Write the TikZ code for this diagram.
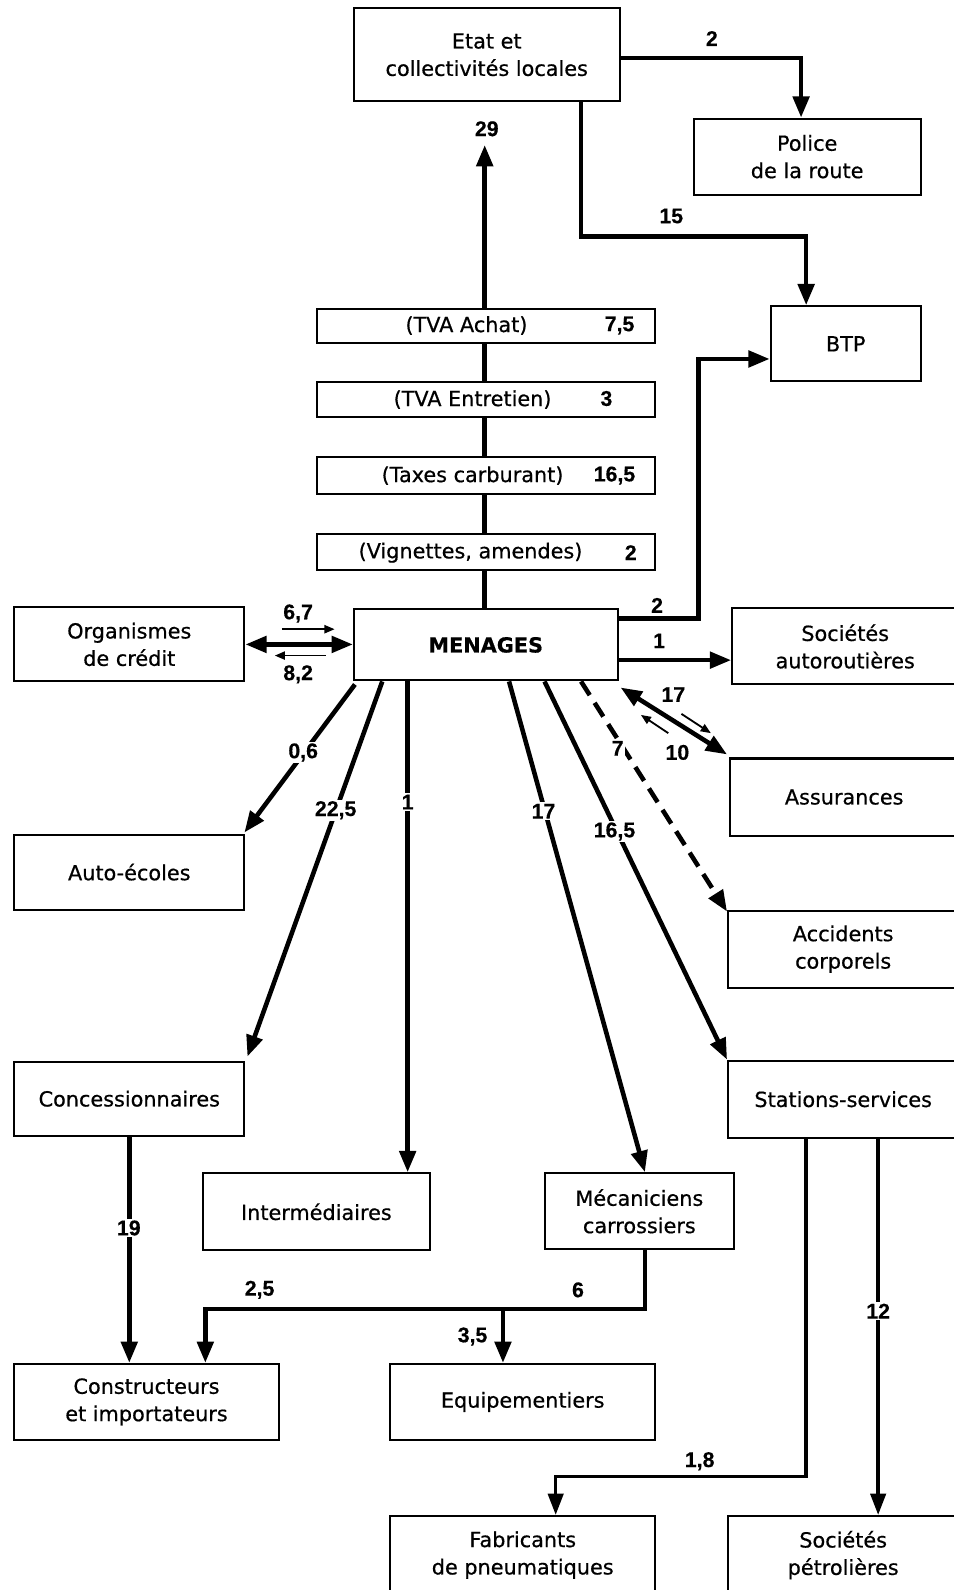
\documentclass[tikz,border=0pt]{standalone}
\usepackage{fontspec}
\setmainfont{DejaVu Sans}[FakeBold=0.6]
\newfontfamily\numfont{Liberation Sans}[FakeBold=0.4]
\usetikzlibrary{arrows.meta}
\begin{document}
\begin{tikzpicture}[x=1pt,y=-1pt,
 box/.style={draw, line width=2pt, fill=white, inner sep=0pt, align=center, font=\fontsize{20.5}{27}\selectfont},
 flow/.style={line width=4.5pt, -{Triangle[length=21pt,width=16pt]}},
 flowthin/.style={line width=3.5pt, -{Triangle[length=21pt,width=15pt]}},
 flowboth/.style={line width=4.5pt, {Triangle[length=21pt,width=16pt]}-{Triangle[length=21pt,width=16pt]}},
 flowdash/.style={line width=4.5pt, dash pattern=on 16pt off 9pt, -{Triangle[length=21pt,width=16pt]}},
 small/.style={line width=1.8pt, -{Triangle[length=10pt,width=8pt]}},
 lab/.style={font=\numfont\bfseries\fontsize{21}{24}\selectfont, inner sep=1.5pt},
 onl/.style={lab, fill=white},
 txt/.style={font=\fontsize{20.5}{27}\selectfont, inner sep=0pt}
]
\fill[white] (0,0) rectangle (940,1568);
\useasboundingbox (0,0) rectangle (940,1568);

% main boxes
\node[box, minimum width=262pt, minimum height=92pt] (etat) at (480,54) {Etat et\\collectivités locales};
\node[box, minimum width=224pt, minimum height=75pt] (police) at (796,154.5) {Police\\de la route};
\node[box, minimum width=148pt, minimum height=74pt] (btp) at (834,339) {BTP};
\node[box, minimum width=260pt, minimum height=70pt, font=\fontsize{20.5}{27}\selectfont\bfseries] (men) at (479,636) {MENAGES};
\node[box, minimum width=227pt, minimum height=73pt] (org) at (127.5,635.5) {Organismes\\de crédit};
\node[box, minimum width=223pt, minimum height=75pt] (autor) at (833.5,637.5) {Sociétés\\autoroutières};
\node[box, minimum width=225pt, minimum height=76pt] (assur) at (832.5,786) {Assurances};
\node[box, minimum width=227pt, minimum height=76pt] (accid) at (831.5,936) {Accidents\\corporels};
\node[box, minimum width=227pt, minimum height=76pt] (stat) at (831.5,1084) {Stations-services};
\node[box, minimum width=227pt, minimum height=74pt] (auto) at (127.5,860) {Auto-écoles};
\node[box, minimum width=227pt, minimum height=73pt] (conc) at (127.5,1083.5) {Concessionnaires};
\node[box, minimum width=224pt, minimum height=76pt] (inter) at (312,1195) {Intermédiaires};
\node[box, minimum width=187pt, minimum height=75pt] (meca) at (630.5,1194.5) {Mécaniciens\\carrossiers};
\node[box, minimum width=261pt, minimum height=75pt] (cons) at (144.5,1382.5) {Constructeurs\\et importateurs};
\node[box, minimum width=261pt, minimum height=75pt] (equip) at (515.5,1382.5) {Equipementiers};
\node[box, minimum width=261pt, minimum height=77pt] (fab) at (515.5,1533.5) {Fabricants\\de pneumatiques};
\node[box, minimum width=227pt, minimum height=77pt] (petro) at (831.5,1533.5) {Sociétés\\pétrolières};

% tax column
\coordinate (t29) at (478,143);
\draw[flow] (men.north -| t29) -- (t29);
\node[box, minimum width=333pt, minimum height=33pt] (tva1) at (479.5,321.5) {};
\node[box, minimum width=333pt, minimum height=34pt] (tva2) at (479.5,394) {};
\node[box, minimum width=333pt, minimum height=36pt] (tax3) at (479.5,469) {};
\node[box, minimum width=333pt, minimum height=35pt] (vign) at (479.5,544.5) {};
\node[txt] (t1) at (460,321) {(TVA Achat)};
\node[lab] (n1) at (611,321) {7,5};
\node[txt] (t2) at (466,394) {(TVA Entretien)};
\node[lab] (n2) at (598,393) {3};
\node[txt] (t3) at (466,469) {(Taxes carburant)};
\node[lab] (n3) at (606,469) {16,5};
\node[txt] (t4) at (464,545) {(Vignettes, amendes)};
\node[lab] (n4) at (622,545) {2};

% Etat flows
\draw[flow] ([shift={(0,3)}]etat.east) -| ([shift={(-6,0)}]police.north);
\draw[flow] ([shift={(93,0)}]etat.south) -- ++(0,132) -| ([shift={(-39,0)}]btp.north);

% Menages flows
\draw[flow] ([shift={(0,10)}]men.north east) -- ++(79,0) |- ([shift={(0,15)}]btp.west);
\draw[flow] ([shift={(0,15)}]men.east) -- ([shift={(0,13.5)}]autor.west);
\draw[flowboth] (org.east) -- (org.east -| men.west);
\draw[small] ([shift={(36,-15)}]org.east) -- ++(52,0);
\draw[small] ([shift={(79,11)}]org.east) -- ++(-50,0);
\draw[flowboth] ([shift={(2,6)}]men.south east) -- ([shift={(-2,-3)}]assur.north west);
\draw[small] ([shift={(62,32)}]men.south east) -- ++(29,19);
\draw[small] ([shift={(49,51)}]men.south east) -- ++(-27,-18);
\draw[flowdash] ([shift={(94,0)}]men.south) -- ([shift={(0,2)}]accid.north west);
\draw[flow] ([shift={(58,0)}]men.south) -- (stat.north west);
\draw[flow] ([shift={(23,0)}]men.south) -- ([shift={(5.5,0)}]meca.north);
\draw[flow] ([shift={(-77,0)}]men.south) -- ([shift={(90,0)}]inter.north);
\draw[flow] ([shift={(-102,0)}]men.south) -- ([shift={(2,-4)}]conc.north east);
\draw[flow] ([shift={(2,3)}]men.south west) -- ([shift={(-1,-1)}]auto.north east);

% lower flows
\draw[flow] (conc.south) -- ([shift={(-17,0)}]cons.north);
\draw[flow] ([shift={(5.5,0)}]meca.south) -- ++(0,58) coordinate (mj) -| ([shift={(58,0)}]cons.north);
\coordinate (eqx) at (496,0);
\draw[flow] (mj -| eqx) -- (equip.north -| eqx);
\draw[flowthin] ([shift={(-36.5,0)}]stat.south) -- ++(0,333) -| ([shift={(32.5,0)}]fab.north);
\draw[flowthin] ([shift={(34.5,0)}]stat.south) -- ([shift={(34.5,0)}]petro.north);

% labels
\node[lab] (l2a) at (702,38) {2};
\node[lab] (l15) at (662,213) {15};
\node[lab] (l29) at (480,127) {29};
\node[lab] (l2b) at (648,597) {2};
\node[lab] (l1a) at (650,632) {1};
\node[lab] (l67) at (294,605) {6,7};
\node[lab] (l82) at (294,665) {8,2};
\node[lab] (l17a) at (664,685) {17};
\node[lab] (l10) at (668,742) {10};
\node[onl] (l7) at (609,738) {7};
\node[onl] (l06) at (299,742) {0,6};
\node[onl] (l225) at (331,799) {22,5};
\node[onl] (l1b) at (402,791) {1};
\node[onl] (l17b) at (536,800) {17};
\node[onl] (l165) at (606,820) {16,5};
\node[onl] (l19) at (127,1211) {19};
\node[lab] (l25) at (256,1272) {2,5};
\node[lab] (l6) at (570,1272) {6};
\node[lab] (l35) at (466,1318) {3,5};
\node[lab] (l18) at (690,1441) {1,8};
\node[onl] (l12) at (866,1293) {12};
\end{tikzpicture}
\end{document}
